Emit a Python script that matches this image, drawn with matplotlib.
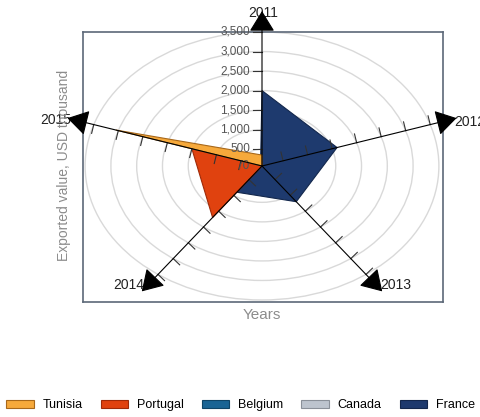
import numpy as np
import matplotlib
matplotlib.use("Agg")
import matplotlib.pyplot as plt
from matplotlib.patches import Ellipse, Patch

plt.rcParams['font.family'] = ['Liberation Sans', 'DejaVu Sans']

# data (USD thousand)
years = ['2011', '2012', '2013', '2014', '2015']
tunisia = [350, 70, 70, 70, 3050]
portugal = [120, 70, 70, 1700, 1500]
belgium = [70, 70, 70, 70, 70]
canada = [70, 70, 70, 70, 70]
france = [2000, 1600, 1200, 900, 100]
series_names = ['Tunisia', 'Portugal', 'Belgium', 'Canada', 'France']
series_values = [tunisia, portugal, belgium, canada, france]
colors = ['#F6A93B', '#E0420F', '#1A6494', '#BDC4CE', '#1E3A6E']
edges = ['#A8681A', '#9E2A08', '#0F4466', '#8A9099', '#13274C']
tick_values = [500, 1000, 1500, 2000, 2500, 3000, 3500]
r_min = 70
r_max = 3500

# layout in pixels
W, H = 481, 417
L, R, T, B = 83, 443, 32, 302
cx, cy = 262, 166
rad_px = 134.0     # vertical radius of outer ring
sx = 1.32          # horizontal stretch

span = r_max - r_min
ux = span / (rad_px * sx)   # data units per px, x
uy = span / rad_px          # data units per px, y

fig = plt.figure(figsize=(W / 100, H / 100), dpi=100)
ax = fig.add_axes([L / W, (H - B) / H, (R - L) / W, (B - T) / H])
ax.set_xlim(-(cx - L) * ux, (R - cx) * ux)
ax.set_ylim(-(B - cy) * uy, (cy - T) * uy)
ax.set_xticks([])
ax.set_yticks([])
for s in ax.spines.values():
    s.set_color('#5C6878')
    s.set_linewidth(1.2)

angles = np.deg2rad(90 - 72 * np.arange(len(years)))

# rings
for v in tick_values:
    r = v - r_min
    ax.add_patch(Ellipse((0, 0), 2 * r, 2 * r, fill=False, ec='#D9D9D9',
                         lw=1.0, zorder=1, clip_on=False))

# series (last one at the bottom)
for i in range(len(series_names) - 1, -1, -1):
    r = np.array(series_values[i]) - r_min
    ax.fill(r * np.cos(angles), r * np.sin(angles), facecolor=colors[i],
            edgecolor=edges[i], lw=0.8, zorder=2 + (len(series_names) - i) * 0.1)

# year labels (under the arrow heads)
year_pos = [(263, 13), (470, 122), (396, 285), (129, 285), (56, 120)]
for lab, (x, y) in zip(years, year_pos):
    ax.text(x / W, 1 - y / H, lab, transform=fig.transFigure, ha='center',
            va='center', fontsize=10, color='#222222', zorder=4, clip_on=False)

# axes lines with arrows, ticks
r_axis = 155 * uy
tick_px = 9
for k, a in enumerate(angles):
    ax.annotate('', xy=(r_axis * np.cos(a), r_axis * np.sin(a)), xytext=(0, 0),
                arrowprops=dict(arrowstyle='-|>,head_length=1.3,head_width=0.8',
                                color='black', lw=0.8, shrinkA=0, shrinkB=0),
                zorder=8, annotation_clip=False)
    dvx, dvy = np.cos(a) * sx, np.sin(a)
    n = np.hypot(dvx, dvy)
    nx, ny = -dvy / n, dvx / n
    for v in tick_values:
        r = v - r_min
        px, py = r * np.cos(a), r * np.sin(a)
        ax.plot([px, px + nx * tick_px * ux], [py, py + ny * tick_px * uy],
                color='#333333', lw=0.8, zorder=6, clip_on=False)

# radial labels on 2011 axis
for v in [r_min] + tick_values:
    r = v - r_min
    ax.text(-12 * ux, r, f'{v:,}', ha='right', va='center', fontsize=8.5,
            color='#555555', zorder=7, clip_on=False)

fig.text(64 / W, 1 - 165 / H, 'Exported value, USD thousand', rotation=90,
         ha='center', va='center', fontsize=10, color='#8C8C8C', zorder=0)
fig.text(cx / W, 1 - 315 / H, 'Years', ha='center', va='center',
         fontsize=11, color='#8C8C8C')

handles = [Patch(facecolor=c, edgecolor=e, lw=0.8) for c, e in zip(colors, edges)]
fig.legend(handles, series_names, loc='center', bbox_to_anchor=(0.5, 1 - 405 / H),
           ncol=5, frameon=False, fontsize=9, handlelength=2.2, handleheight=0.6,
           handletextpad=0.7, columnspacing=1.45, borderaxespad=0)

fig.savefig('out.png', dpi=100)
